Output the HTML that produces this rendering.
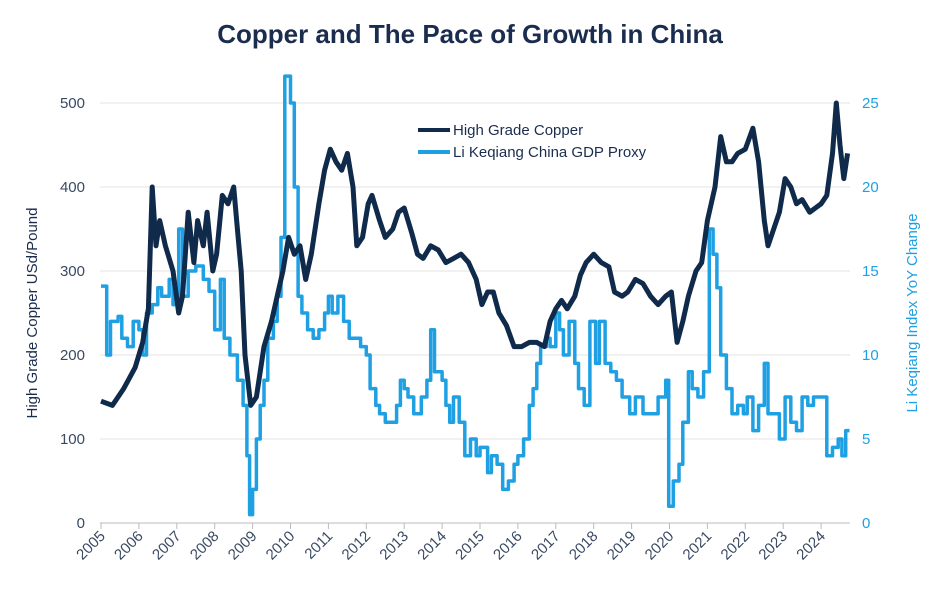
<!DOCTYPE html>
<html><head><meta charset="utf-8"><style>
body{margin:0;background:#fff;font-family:"Liberation Sans",sans-serif}
svg text{font-family:"Liberation Sans",sans-serif}
</style></head><body>
<svg id="chart" width="940" height="600" xmlns="http://www.w3.org/2000/svg">
<text x="470" y="43" text-anchor="middle" font-size="26" font-weight="bold" fill="#1b2d4f">Copper and The Pace of Growth in China</text>
<g id="grid"></g><g id="axes"></g><g id="series"></g>
<text transform="translate(37,313) rotate(-90)" text-anchor="middle" font-size="15" fill="#1b2d4f">High Grade Copper USd/Pound</text>
<text transform="translate(917,313) rotate(-90)" text-anchor="middle" font-size="15" fill="#1fa0e3">Li Keqiang Index YoY Change</text>
<g>
<line x1="418" y1="130" x2="450" y2="130" stroke="#0f2a4a" stroke-width="4"/>
<text x="453" y="135" font-size="15" fill="#1b2d4f">High Grade Copper</text>
<line x1="418" y1="152" x2="450" y2="152" stroke="#1fa0e3" stroke-width="4"/>
<text x="453" y="157" font-size="15" fill="#1b2d4f">Li Keqiang China GDP Proxy</text>
</g>
</svg>
<script>
const leftTicks=[0,100,200,300,400,500];
const rightTicks=[0,5,10,15,20,25];
const yearLabels=[2005,2006,2007,2008,2009,2010,2011,2012,2013,2014,2015,2016,2017,2018,2019,2020,2021,2022,2023,2024];
const copperT=[2005.0,2005.3,2005.6,2005.9,2006.1,2006.25,2006.35,2006.45,2006.55,2006.7,2006.9,2007.05,2007.15,2007.3,2007.45,2007.55,2007.7,2007.8,2007.95,2008.05,2008.2,2008.35,2008.5,2008.6,2008.7,2008.8,2008.95,2009.1,2009.3,2009.5,2009.65,2009.8,2009.95,2010.1,2010.25,2010.4,2010.55,2010.75,2010.9,2011.05,2011.2,2011.35,2011.5,2011.65,2011.75,2011.9,2012.05,2012.15,2012.35,2012.5,2012.7,2012.85,2013.0,2013.2,2013.35,2013.5,2013.7,2013.9,2014.1,2014.3,2014.5,2014.7,2014.9,2015.05,2015.2,2015.35,2015.5,2015.7,2015.9,2016.1,2016.3,2016.5,2016.7,2016.85,2017.0,2017.15,2017.3,2017.5,2017.65,2017.8,2018.0,2018.2,2018.4,2018.55,2018.75,2018.9,2019.1,2019.3,2019.5,2019.7,2019.9,2020.05,2020.2,2020.35,2020.5,2020.7,2020.85,2021.0,2021.2,2021.35,2021.5,2021.65,2021.8,2022.0,2022.2,2022.35,2022.5,2022.6,2022.75,2022.9,2023.05,2023.2,2023.35,2023.5,2023.7,2023.85,2024.0,2024.15,2024.3,2024.4,2024.5,2024.6,2024.7];
const copperV=[145,140,160,185,215,255,400,330,360,330,300,250,270,370,310,360,330,370,300,320,390,380,400,350,300,200,140,150,210,240,270,300,340,320,330,290,320,380,420,445,430,420,440,400,330,340,380,390,360,340,350,370,375,345,320,315,330,325,310,315,320,310,290,260,275,275,250,235,210,210,215,215,210,240,255,265,255,270,295,310,320,310,305,275,270,275,290,285,270,260,270,275,215,240,270,300,310,360,400,460,430,430,440,445,470,430,360,330,350,370,410,400,380,385,370,375,380,390,440,500,450,410,440];
const gdpT=[2005.0,2005.15,2005.25,2005.45,2005.55,2005.7,2005.85,2006.0,2006.1,2006.2,2006.35,2006.5,2006.6,2006.8,2006.9,2007.05,2007.15,2007.3,2007.5,2007.7,2007.85,2008.0,2008.15,2008.25,2008.4,2008.6,2008.75,2008.85,2008.92,2009.0,2009.1,2009.2,2009.3,2009.4,2009.55,2009.65,2009.75,2009.85,2010.0,2010.1,2010.2,2010.3,2010.45,2010.6,2010.75,2010.9,2011.0,2011.1,2011.25,2011.4,2011.55,2011.85,2012.0,2012.1,2012.25,2012.35,2012.5,2012.8,2012.9,2013.0,2013.1,2013.25,2013.45,2013.6,2013.7,2013.8,2014.0,2014.1,2014.2,2014.3,2014.45,2014.6,2014.75,2014.9,2015.0,2015.2,2015.3,2015.45,2015.6,2015.75,2015.9,2016.0,2016.15,2016.3,2016.4,2016.5,2016.6,2016.75,2016.85,2017.0,2017.1,2017.2,2017.35,2017.5,2017.6,2017.75,2017.9,2018.05,2018.15,2018.3,2018.45,2018.6,2018.75,2018.95,2019.1,2019.3,2019.7,2019.9,2019.98,2020.1,2020.25,2020.35,2020.5,2020.6,2020.75,2020.9,2021.05,2021.15,2021.25,2021.35,2021.5,2021.65,2021.8,2021.95,2022.05,2022.2,2022.35,2022.5,2022.6,2022.9,2023.05,2023.2,2023.35,2023.5,2023.65,2023.8,2024.15,2024.3,2024.45,2024.55,2024.65,2024.72];
const gdpV=[14.1,10,12,12.3,11,10.5,12,11.5,10,12.5,13,14,13.5,14.5,13,17.5,13.5,15,15.3,14.5,13.8,11.5,14.5,11,10,8.5,7,4,0.5,2,5,7,8.5,11,12,13.5,17,26.6,25,20,13.5,12.5,11.5,11,11.5,12.5,13.5,12.5,13.5,12,11,10.5,10,8,7,6.5,6,7,8.5,8,7.5,6.5,7.5,8.5,11.5,9,8.5,7,6,7.5,6,4,5,4,4.5,3,4,3.5,2,2.5,3.5,4,5,7,8,9.5,10.5,11,10.5,12.5,11.5,10,12,9.5,8,7,12,9.5,12,9.5,9,8.5,7.5,6.5,7.5,6.5,7.5,8.5,1,2.5,3.5,6,9,8,7.5,9,17.5,16,14,10,8,6.5,7,6.5,7.5,5.5,7,9.5,6.5,5,7.5,6,5.5,7.5,7,7.5,4,4.5,5,4,5.5,5.5];
const NS="http://www.w3.org/2000/svg";
const X0=101,PX=37.9,Y0=523;
const xs=t=>X0+(t-2005)*PX;
const yl=v=>Y0-v*0.84;
const yr=v=>Y0-v*16.8;
function mk(tag,attrs,parent){const e=document.createElementNS(NS,tag);for(const k in attrs)e.setAttribute(k,attrs[k]);parent.appendChild(e);return e;}
const grid=document.getElementById('grid'),axes=document.getElementById('axes'),ser=document.getElementById('series');
leftTicks.forEach((v,i)=>{
 const l=mk('line',{x1:100,x2:850,y1:yl(v),y2:yl(v),stroke:v===0?'#bbb':'#e3e3e3','stroke-width':1},grid);
 
 
 const t=mk('text',{x:85,y:yl(v)+5,'text-anchor':'end','font-size':15,fill:'#3a4a63'},axes);
 
 
 t.textContent=v;
});
rightTicks.forEach(v=>{
 const t=mk('text',{x:862,y:yr(v)+5,'text-anchor':'start','font-size':15,fill:'#1fa0e3'},axes);
 
 
 t.textContent=v;
});
yearLabels.forEach(y=>{
 const x=xs(y);
 const tk=mk('line',{x1:x,x2:x,y1:523,y2:529,stroke:'#bbb'},axes);
 
 
 const t=mk('text',{transform:`translate(${x+5},${537}) rotate(-45)`,'text-anchor':'end','font-size':15,fill:'#3a4a63'},axes);
 
 
 t.textContent=y;
});
let d='';
gdpT.forEach((t,i)=>{const x=xs(t).toFixed(1),y=yr(gdpV[i]).toFixed(1);
 if(i===0)d+=`M${x},${y}`;else d+=`H${x}V${y}`;});
d+=`H${xs(2024.75).toFixed(1)}`;
const g=mk('path',{d:d,fill:'none',stroke:'#1fa0e3','stroke-width':3.5,'stroke-linejoin':'round'},ser);


const c=mk('path',{d:copperT.map((t,i)=>(i?'L':'M')+xs(t).toFixed(1)+','+yl(copperV[i]).toFixed(1)).join(''),fill:'none',stroke:'#0f2a4a','stroke-width':5,'stroke-linejoin':'round'},ser);


</script>
</body></html>
